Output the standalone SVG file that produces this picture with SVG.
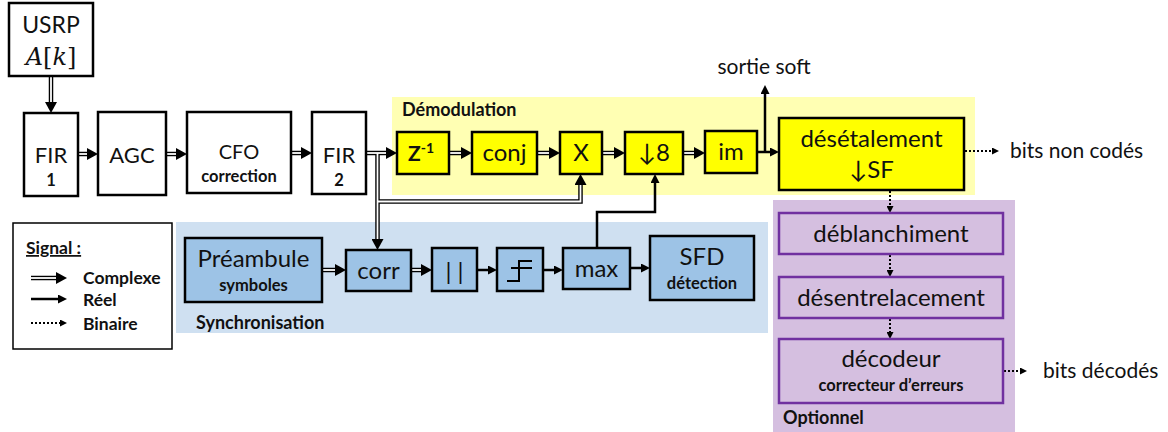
<svg xmlns="http://www.w3.org/2000/svg" width="1168" height="432" viewBox="0 0 1168 432">
  <style>
    .t { font-family: Lato, "Open Sans", "DejaVu Sans", sans-serif; fill: #111; text-anchor: middle; }
    .big { font-size: 24px; }
    .top { font-size: 22px; }
    .mid { font-size: 20px; }
    .sub { font-size: 16.5px; font-weight: bold; }
    .lbl { font-size: 18px; font-weight: bold; text-anchor: start; }
    .leg { font-size: 17.5px; font-weight: bold; text-anchor: start; }
    .out { font-size: 21px; text-anchor: start; }
    .box { fill: #fff; stroke: #000; stroke-width: 2.5; }
    .yb { fill: #ffff00; stroke: #000; stroke-width: 2.5; }
    .bb { fill: #9dc3e6; stroke: #000; stroke-width: 2.5; }
    .pb { fill: none; stroke: #7030a0; stroke-width: 2.5; }
    .cx { fill: none; stroke: #000; stroke-width: 4.5; }
    .cxi { fill: none; stroke: #fff; stroke-width: 1.8; }
    .re { fill: none; stroke: #000; stroke-width: 2.5; marker-end: url(#hr); }
    .bi { fill: none; stroke: #000; stroke-width: 2; stroke-dasharray: 2 2; marker-end: url(#hb); }
  </style>
  <defs>
    <marker id="hc" viewBox="0 0 10 10" refX="0" refY="5" markerWidth="11" markerHeight="12" markerUnits="userSpaceOnUse" orient="auto" preserveAspectRatio="none">
      <path d="M0,0L10,5L0,10z" fill="#000"/>
    </marker>
    <marker id="hr" viewBox="0 0 10 10" refX="0" refY="5" markerWidth="9" markerHeight="9" markerUnits="userSpaceOnUse" orient="auto" preserveAspectRatio="none">
      <path d="M0,0L10,5L0,10z" fill="#000"/>
    </marker>
    <marker id="hb" viewBox="0 0 10 10" refX="0" refY="5" markerWidth="7" markerHeight="7" markerUnits="userSpaceOnUse" orient="auto" preserveAspectRatio="none">
      <path d="M0,0L10,5L0,10z" fill="#000"/>
    </marker>
  </defs>

  <!-- background zones -->
  <g id="zones">
    <rect x="392" y="97" width="583" height="98" fill="#ffffb3"/>
    <rect x="176" y="222" width="592" height="111" fill="#cfe0f1"/>
    <rect x="773" y="200" width="242" height="232" fill="#d5bfe0"/>
    <text class="t lbl" x="402" y="116">Démodulation</text>
    <text class="t lbl" x="196" y="329">Synchronisation</text>
    <text class="t lbl" x="783" y="424">Optionnel</text>
  </g>

  <!-- connectors -->
  <g id="connectors">
    <!-- complex (double line) signals: black body, white core -->
    <g class="cx-outer">
      <path class="cx" d="M51,76V102" marker-end="url(#hc)"/>
      <path class="cx" d="M78,154H87" marker-end="url(#hc)"/>
      <path class="cx" d="M166,154H176" marker-end="url(#hc)"/>
      <path class="cx" d="M291,153H301" marker-end="url(#hc)"/>
      <path class="cx" d="M366,153H386" marker-end="url(#hc)"/>
      <path class="cx" d="M377.5,153V239" marker-end="url(#hc)"/>
      <path class="cx" d="M377.5,201.5H580.5V185" marker-end="url(#hc)"/>
      <path class="cx" d="M449,153H461" marker-end="url(#hc)"/>
      <path class="cx" d="M537,153H549" marker-end="url(#hc)"/>
      <path class="cx" d="M602,153H614" marker-end="url(#hc)"/>
      <path class="cx" d="M683,153H694" marker-end="url(#hc)"/>
      <path class="cx" d="M322,270H335" marker-end="url(#hc)"/>
      <path class="cx" d="M411,270H421" marker-end="url(#hc)"/>
    </g>
    <g class="cx-inner">
      <path class="cxi" d="M51,74V102"/>
      <path class="cxi" d="M77,154H87"/>
      <path class="cxi" d="M165,154H176"/>
      <path class="cxi" d="M290,153H301"/>
      <path class="cxi" d="M365,153H386"/>
      <path class="cxi" d="M377.5,153V239"/>
      <path class="cxi" d="M377.5,201.5H580.5V185"/>
      <path class="cxi" d="M448,153H461"/>
      <path class="cxi" d="M536,153H549"/>
      <path class="cxi" d="M601,153H614"/>
      <path class="cxi" d="M682,153H694"/>
      <path class="cxi" d="M321,270H335"/>
      <path class="cxi" d="M410,270H421"/>
    </g>
    <!-- real signals -->
    <path class="re" d="M757,152H770"/>
    <path class="re" d="M765,152V94"/>
    <path class="re" d="M597,248V212H655V183"/>
    <path class="re" d="M477,270H488"/>
    <path class="re" d="M543,270H554"/>
    <path class="re" d="M630,268H641"/>
    <!-- binary signals -->
    <path class="bi" d="M965,151H992"/>
    <path class="bi" d="M890,191V206"/>
    <path class="bi" d="M890,255V270"/>
    <path class="bi" d="M890,319V332"/>
    <path class="bi" d="M1004,371H1020"/>
  </g>

  <!-- front end -->
  <g id="usrp">
    <rect class="box" x="9" y="3" width="84" height="73"/>
    <text class="t" x="51" y="33" font-size="23">USRP</text>
    <text x="51" y="65" text-anchor="middle" font-family="'DejaVu Serif', 'Liberation Serif', serif" font-size="24" fill="#111"><tspan font-style="italic">A</tspan>[<tspan font-style="italic">k</tspan>]</text>
  </g>
  <g id="fir1">
    <rect class="box" x="24" y="113" width="54" height="83"/>
    <text class="t top" x="51" y="163">FIR</text>
    <text class="t sub" x="51" y="186">1</text>
  </g>
  <g id="agc">
    <rect class="box" x="98" y="112" width="68" height="83"/>
    <text class="t top" x="132" y="163">AGC</text>
  </g>
  <g id="cfo">
    <rect class="box" x="187" y="112" width="104" height="81"/>
    <text class="t mid" x="239" y="159">CFO</text>
    <text class="t" x="239" y="182" font-size="16.5" font-weight="bold">correction</text>
  </g>
  <g id="fir2">
    <rect class="box" x="312" y="112" width="54" height="82"/>
    <text class="t top" x="339" y="163">FIR</text>
    <text class="t sub" x="339" y="186">2</text>
  </g>

  <!-- demodulation -->
  <g id="zinv">
    <rect class="yb" x="397" y="132" width="52" height="42"/>
    <text class="t" x="421" y="161" font-size="21" font-weight="bold">Z<tspan font-size="14" dy="-8">-1</tspan></text>
  </g>
  <g id="conj">
    <rect class="yb" x="472" y="132" width="65" height="42"/>
    <text class="t big" x="504.5" y="161">conj</text>
  </g>
  <g id="mult">
    <rect class="yb" x="560" y="132" width="42" height="42"/>
    <text class="t big" x="581" y="161">X</text>
  </g>
  <g id="down8">
    <rect class="yb" x="625" y="132" width="58" height="42"/>
    <text class="t big" x="654" y="161">↓8</text>
  </g>
  <g id="im">
    <rect class="yb" x="705" y="131" width="52" height="42"/>
    <text class="t big" x="731" y="160">im</text>
  </g>
  <g id="despread">
    <rect class="yb" x="779" y="118" width="185" height="72"/>
    <text class="t big" x="871.5" y="147">désétalement</text>
    <text class="t big" x="871.5" y="178">↓SF</text>
  </g>
  <text class="t" x="764" y="74" font-size="21">sortie soft</text>
  <text class="t out" x="1010" y="158">bits non codés</text>

  <!-- synchronisation -->
  <g id="preamble">
    <rect class="bb" x="185" y="238" width="137" height="64"/>
    <text class="t big" x="253.5" y="267">Préambule</text>
    <text class="t sub" x="253.5" y="291">symboles</text>
  </g>
  <g id="corr">
    <rect class="bb" x="346" y="250" width="65" height="41"/>
    <text class="t big" x="378.5" y="279">corr</text>
  </g>
  <g id="abs">
    <rect class="bb" x="432" y="248" width="45" height="43"/>
    <text class="t big" x="454.5" y="280">| |</text>
  </g>
  <g id="threshold">
    <rect class="bb" x="497" y="248" width="46" height="43"/>
    <path d="M507,281H519V261H532M511,268H532" fill="none" stroke="#000" stroke-width="2"/>
  </g>
  <g id="max">
    <rect class="bb" x="563" y="248" width="67" height="41"/>
    <text class="t big" x="596.5" y="277">max</text>
  </g>
  <g id="sfd">
    <rect class="bb" x="650" y="236" width="104" height="64"/>
    <text class="t big" x="702" y="265">SFD</text>
    <text class="t sub" x="702" y="289">détection</text>
  </g>

  <!-- optional decoding chain -->
  <g id="dewhiten">
    <rect class="pb" x="779" y="213" width="224" height="41"/>
    <text class="t big" x="891" y="242">déblanchiment</text>
  </g>
  <g id="deinterleave">
    <rect class="pb" x="779" y="277" width="224" height="41"/>
    <text class="t big" x="891" y="306">désentrelacement</text>
  </g>
  <g id="decoder">
    <rect class="pb" x="779" y="339" width="224" height="64"/>
    <text class="t big" x="891" y="367">décodeur</text>
    <text class="t sub" x="891" y="391">correcteur d’erreurs</text>
  </g>
  <text class="t out" x="1043" y="378">bits décodés</text>

  <!-- legend -->
  <g id="legend">
    <rect x="13" y="223" width="159" height="126" fill="#fff" stroke="#000" stroke-width="1.5"/>
    <text class="t leg" x="26" y="254" text-decoration="underline">Signal :</text>
    <path class="cx" d="M31,278H56" marker-end="url(#hc)"/>
    <path class="cxi" d="M31,278H56"/>
    <path class="re" d="M31,299H58"/>
    <path class="bi" d="M31,323H60"/>
    <text class="t leg" x="83" y="284">Complexe</text>
    <text class="t leg" x="83" y="306">Réel</text>
    <text class="t leg" x="83" y="330">Binaire</text>
  </g>
</svg>
